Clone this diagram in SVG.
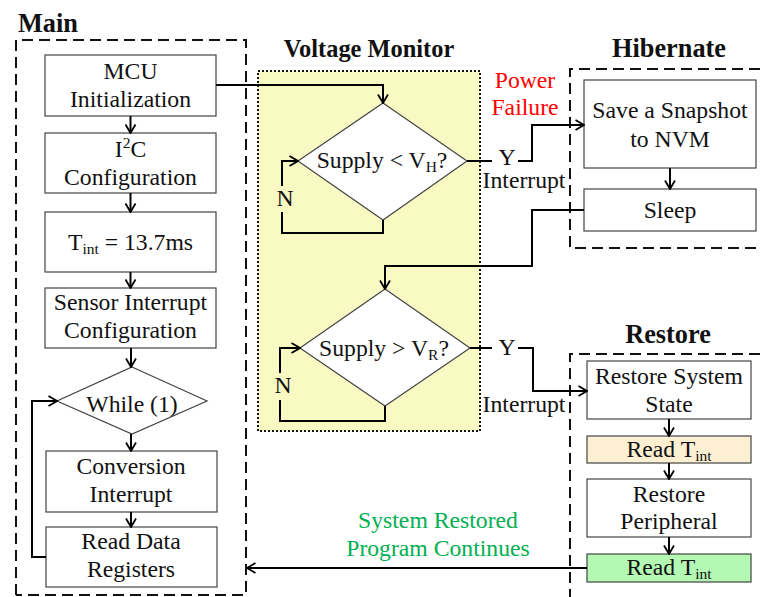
<svg xmlns="http://www.w3.org/2000/svg" width="760" height="597" viewBox="0 0 760 597">
<defs>
<marker id="arr" viewBox="0 0 10 12" refX="9.5" refY="6" markerWidth="10" markerHeight="12" markerUnits="userSpaceOnUse" orient="auto">
<path d="M1,1 L9.5,6 L1,11" fill="none" stroke="#000" stroke-width="1.8"/>
</marker>
<style>
text{font-family:"Liberation Serif","Times New Roman","DejaVu Serif",serif;font-size:23.7px;fill:#111;text-anchor:middle}
.t{font-weight:bold;font-size:26.3px}
.box{fill:#fff;stroke:#444;stroke-width:1.2}
.dash{fill:none;stroke:#111;stroke-width:2;stroke-dasharray:11,6}
.c{fill:none;stroke:#000;stroke-width:2}
.a{marker-end:url(#arr)}
.sub{font-size:15.5px}
</style>
</defs>
<rect width="760" height="597" fill="#fff"/>

<!-- containers -->
<g id="main-group">
<text class="t" x="18" y="32" style="text-anchor:start">Main</text>
<path class="dash" d="M16,595 V40 H246 V595 H16"/>
</g>
<g id="voltage-monitor">
<text class="t" x="369" y="57" style="font-size:24.4px">Voltage Monitor</text>
<rect x="258" y="71" width="222" height="360" fill="#F9F9C4" stroke="#111" stroke-width="2" stroke-dasharray="2,2"/>
</g>
<g id="hibernate-group">
<text class="t" x="669" y="57">Hibernate</text>
<path class="dash" d="M760,69 H570 V248 H760"/>
</g>
<g id="restore-group">
<text class="t" x="668" y="343">Restore</text>
<path class="dash" d="M760,354 H570 V597"/>
</g>

<!-- main nodes -->
<g id="mcu-init">
<rect class="box" x="45" y="55" width="171" height="61"/>
<text x="130.5" y="79">MCU</text>
<text x="130.5" y="107">Initialization</text>
</g>
<g id="i2c-config">
<rect class="box" x="45" y="133" width="171" height="60"/>
<text x="130.5" y="157">I<tspan class="sub" dy="-9">2</tspan><tspan dy="9">C</tspan></text>
<text x="130.5" y="185">Configuration</text>
</g>
<g id="tint">
<rect class="box" x="45" y="212" width="171" height="60"/>
<text x="130.5" y="250">T<tspan class="sub" dy="4">int</tspan><tspan dy="-4"> = 13.7ms</tspan></text>
</g>
<g id="sensor-config">
<rect class="box" x="45" y="288" width="171" height="60"/>
<text x="130.5" y="310">Sensor Interrupt</text>
<text x="130.5" y="338">Configuration</text>
</g>
<g id="while">
<polygon class="box" points="132,367 207,401 132,434 57,401"/>
<text x="132" y="412">While (1)</text>
</g>
<g id="conversion">
<rect class="box" x="46" y="451" width="171" height="61"/>
<text x="131" y="474">Conversion</text>
<text x="131" y="502">Interrupt</text>
</g>
<g id="read-data">
<rect class="box" x="46" y="527" width="171" height="60"/>
<text x="131" y="549">Read Data</text>
<text x="131" y="577">Registers</text>
</g>

<!-- voltage monitor nodes -->
<g id="supply-vh">
<polygon class="box" points="383,103 467,161 383,220 298,161"/>
<text x="382" y="168">Supply &lt; V<tspan class="sub" dy="4">H</tspan><tspan dy="-4">?</tspan></text>
</g>
<g id="supply-vr">
<polygon class="box" points="385,289 470,348 385,406 300,348"/>
<text x="384" y="356">Supply &gt; V<tspan class="sub" dy="4">R</tspan><tspan dy="-4">?</tspan></text>
</g>

<!-- hibernate nodes -->
<g id="save-snapshot">
<rect class="box" x="584" y="80" width="172" height="88"/>
<text x="670" y="118">Save a Snapshot</text>
<text x="670" y="147">to NVM</text>
</g>
<g id="sleep">
<rect class="box" x="584" y="189" width="172" height="42"/>
<text x="670" y="218">Sleep</text>
</g>

<!-- restore nodes -->
<g id="restore-state">
<rect class="box" x="587" y="361" width="164" height="58"/>
<text x="669" y="384">Restore System</text>
<text x="669" y="412">State</text>
</g>
<g id="read-tint-1">
<rect x="587" y="436" width="164" height="27" fill="#FDEFD2" stroke="#444" stroke-width="1.2"/>
<text x="669" y="457">Read T<tspan class="sub" dy="4">int</tspan></text>
</g>
<g id="restore-peripheral">
<rect class="box" x="587" y="479" width="164" height="58"/>
<text x="669" y="502">Restore</text>
<text x="669" y="529">Peripheral</text>
</g>
<g id="read-tint-2">
<rect x="587" y="554" width="164" height="28" fill="#B3F8B3" stroke="#444" stroke-width="1.2"/>
<text x="669" y="575">Read T<tspan class="sub" dy="4">int</tspan></text>
</g>

<!-- connectors -->
<g id="connectors">
<path class="c a" d="M130.5,116 V133"/>
<path class="c a" d="M130.5,193 V212"/>
<path class="c a" d="M130.5,272 V288"/>
<path class="c a" d="M131,348 V367"/>
<path class="c a" d="M131,434 V451"/>
<path class="c a" d="M131,512 V527"/>
<path class="c a" d="M46,557 H32 V401 H57"/>
<path class="c a" d="M216,85 H383 V103"/>
<path class="c" d="M383,220 V233 H282 V212"/>
<path class="c a" d="M282,186 V161 H298"/>
<path class="c" d="M467,161 H492"/>
<path class="c a" d="M518,161 H532 V125 H584"/>
<path class="c a" d="M670,168 V189"/>
<path class="c a" d="M584,210 H532 V266 H385 V289"/>
<path class="c" d="M385,406 V421 H280 V400"/>
<path class="c a" d="M280,373 V348 H300"/>
<path class="c" d="M470,348 H492"/>
<path class="c a" d="M518,348 H533 V391 H587"/>
<path class="c a" d="M669,419 V436"/>
<path class="c a" d="M669,463 V479"/>
<path class="c a" d="M669,537 V554"/>
<path class="c a" d="M587,568 H247"/>
</g>

<!-- labels -->
<g id="labels">
<text x="285" y="206">N</text>
<text x="283" y="393">N</text>
<text x="507" y="165">Y</text>
<text x="524" y="188">Interrupt</text>
<text x="507" y="355">Y</text>
<text x="524" y="412">Interrupt</text>
<text x="525" y="88" style="fill:#FF0000">Power</text>
<text x="525" y="115" style="fill:#FF0000">Failure</text>
<text x="438" y="528" style="fill:#00B050">System Restored</text>
<text x="438" y="556" style="fill:#00B050">Program Continues</text>
</g>
</svg>
